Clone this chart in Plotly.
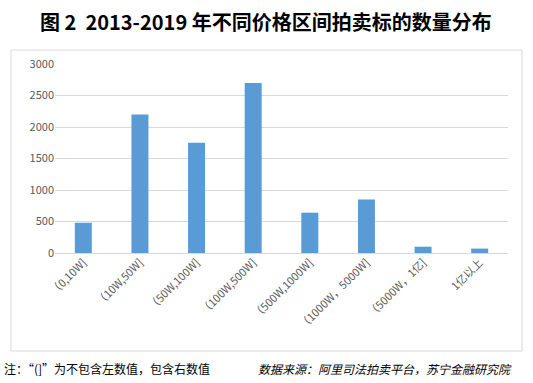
import plotly.graph_objects as go

categories = ["（0,10W]", "（10W,50W]", "（50W,100W]", "（100W,500W]",
              "（500W,1000W]", "（1000W，5000W]", "（5000W，1亿]", "1亿以上"]
counts = [480, 2200, 1750, 2700, 640, 850, 100, 70]
y_ticks = [0, 500, 1000, 1500, 2000, 2500, 3000]

W, H = 533, 383
L, R, T, B = 55, 25, 64, 130
pw, ph = W - L - R, H - T - B

def px(x):
    return (x - L) / pw

def py(y):
    return (H - B - y) / ph

CJK = "Noto Sans CJK SC"

fig = go.Figure(go.Bar(
    x=categories, y=counts, marker=dict(color="#5b9bd5", line=dict(width=0)),
    hoverinfo="skip"))

fig.update_layout(
    width=W, height=H, margin=dict(l=L, r=R, t=T, b=B, autoexpand=False),
    paper_bgcolor="white", plot_bgcolor="white",
    bargap=0.7, showlegend=False,
    font=dict(family=CJK, color="#595959", size=11),
    xaxis=dict(tickangle=-45, showgrid=False, zeroline=False, showline=False,
               automargin=False,
               ticks="", tickfont=dict(size=11, color="#595959", family=CJK)),
    yaxis=dict(range=[0, 3000], tickvals=y_ticks, showgrid=True,
               automargin=False,
               gridcolor="#d9d9d9", gridwidth=1, zeroline=True,
               zerolinecolor="#d9d9d9", zerolinewidth=1, showline=False,
               ticks="", ticklen=0, tickfont=dict(size=11, color="#595959", family=CJK)),
    shapes=[dict(type="rect", xref="paper", yref="paper",
                 x0=px(11), x1=px(522), y0=py(351), y1=py(50),
                 line=dict(color="#d9d9d9", width=1), layer="below")],
    annotations=[
        dict(text="<b>图 2  2013-2019 年不同价格区间拍卖标的数量分布</b>",
             xref="paper", yref="paper", x=px(266), y=py(22), showarrow=False,
             xanchor="center", yanchor="middle",
             font=dict(family=CJK, size=20, color="black")),
        dict(text="注：“(]”为不包含左数值，包含右数值",
             xref="paper", yref="paper", x=px(2), y=py(368), showarrow=False,
             xanchor="left", yanchor="middle",
             font=dict(family=CJK, size=12, color="black")),
        dict(text="<i>数据来源：阿里司法拍卖平台，苏宁金融研究院</i>",
             xref="paper", yref="paper", x=px(514), y=py(368), showarrow=False,
             xanchor="right", yanchor="middle",
             font=dict(family=CJK, size=12, color="black")),
    ],
)

fig.write_html("out.html", config={"displayModeBar": False, "staticPlot": True},
               post_script="document.body.style.margin='0px';document.body.style.overflow='hidden';")
